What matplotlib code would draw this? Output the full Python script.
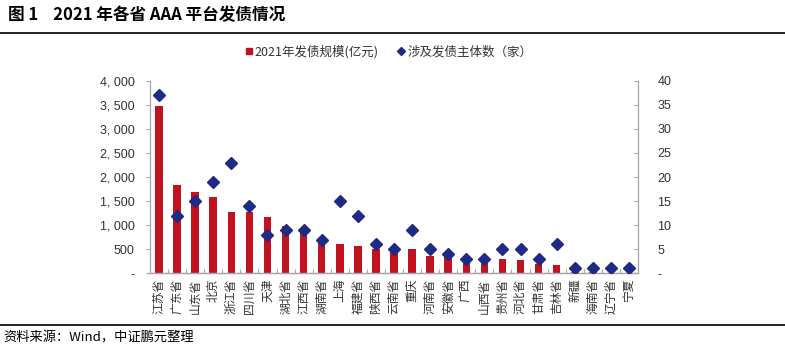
import matplotlib
matplotlib.use("Agg")
import matplotlib.pyplot as plt
from matplotlib.ticker import FuncFormatter, MultipleLocator
from matplotlib.lines import Line2D
import numpy as np

plt.rcParams['font.family'] = ['Noto Sans CJK SC', 'DejaVu Sans']

provinces = ["江苏省", "广东省", "山东省", "北京", "浙江省", "四川省", "天津", "湖北省", "江西省",
             "湖南省", "上海", "福建省", "陕西省", "云南省", "重庆", "河南省", "安徽省", "广西",
             "山西省", "贵州省", "河北省", "甘肃省", "吉林省", "新疆", "海南省", "辽宁省", "宁夏"]
issue_amount = [3470, 1834, 1690, 1590, 1275, 1275, 1163, 982, 920,
                690, 615, 560, 511, 470, 498, 366, 345, 276,
                270, 297, 283, 187, 166, 30, 20, 15, 10]
issuer_count = [37, 12, 15, 19, 23, 14, 8, 9, 9,
                7, 15, 12, 6, 5, 9, 5, 4, 3,
                3, 5, 5, 3, 6, 1, 1, 1, 1]

red = "#C3121F"
blue = "#1F2A84"
grey = "#A6A6A6"
txt = "#333333"
num_font = ['Liberation Sans', 'DejaVu Sans']

fig = plt.figure(figsize=(7.85, 3.5), dpi=100)
ax = fig.add_axes([150/785, 1-273.3/350, (638-150)/785, (273.3-80.7)/350])
x = np.arange(len(provinces))
ax.bar(x, issue_amount, width=0.42, color=red, zorder=2)
ax.set_xlim(-0.5, len(provinces)-0.5)
ax.set_ylim(0, 4000)
ax.yaxis.set_major_locator(MultipleLocator(500))

def fmt_left(v, p):
    if v == 0:
        return "-"
    return f"{int(v):,}".replace(",", ", ")
ax.yaxis.set_major_formatter(FuncFormatter(fmt_left))

ax2 = ax.twinx()
ax2.plot(x, issuer_count, linestyle="none", marker="D", markersize=6.5, color=blue, zorder=3)
ax2.set_ylim(0, 40)
ax2.yaxis.set_major_locator(MultipleLocator(5))
ax2.yaxis.set_major_formatter(FuncFormatter(lambda v, p: "-" if v == 0 else f"{int(v)}"))

for a in (ax, ax2):
    a.spines['top'].set_visible(False)
    for s in ('left', 'right', 'bottom'):
        a.spines[s].set_color(grey)
        a.spines[s].set_linewidth(0.9)
    a.tick_params(axis='y', colors=grey, labelcolor=txt, labelsize=9, length=3, width=0.8)
    for lab in a.get_yticklabels():
        lab.set_fontfamily(num_font)
ax2.spines['left'].set_visible(False)
ax.spines['right'].set_visible(False)
ax.tick_params(axis='y', pad=8)
ax2.tick_params(axis='y', direction='in', pad=14)

ax.set_xticks(x)
ax.set_xticklabels(provinces, rotation=90, fontsize=8.5, color=txt)
ax.tick_params(axis='x', length=0, pad=4)
ax.set_xticks(np.arange(-0.5, len(provinces), 1), minor=True)
ax.tick_params(axis='x', which='minor', direction='in', length=3, color=grey, width=0.8)

# legend
handles = [Line2D([], [], linestyle='none', marker='s', markersize=5, color=red),
           Line2D([], [], linestyle='none', marker='D', markersize=4.5, color=blue)]
fig.legend(handles, ["2021年发债规模(亿元)", "涉及发债主体数（家）"], loc='center',
           bbox_to_anchor=(388/785, 1-52/350), ncol=2, frameon=False, fontsize=9,
           handletextpad=0.1, columnspacing=1.4, handlelength=0.8, labelcolor=txt)

# title and rules
fig.text(8/785, 1-15/350, "图 1    2021 年各省 AAA 平台发债情况", fontsize=12, fontweight='bold',
         va='center', ha='left', color='black')
fig.add_artist(Line2D([0, 1], [1-33/350, 1-33/350], color='black', linewidth=1.2))
fig.add_artist(Line2D([0, 1], [1-325/350, 1-325/350], color='black', linewidth=1.2))
fig.text(3/785, 1-338/350, "资料来源：Wind，中证鹏元整理", fontsize=9.5, va='center', ha='left', color='black')

fig.savefig("out.png", dpi=100)
